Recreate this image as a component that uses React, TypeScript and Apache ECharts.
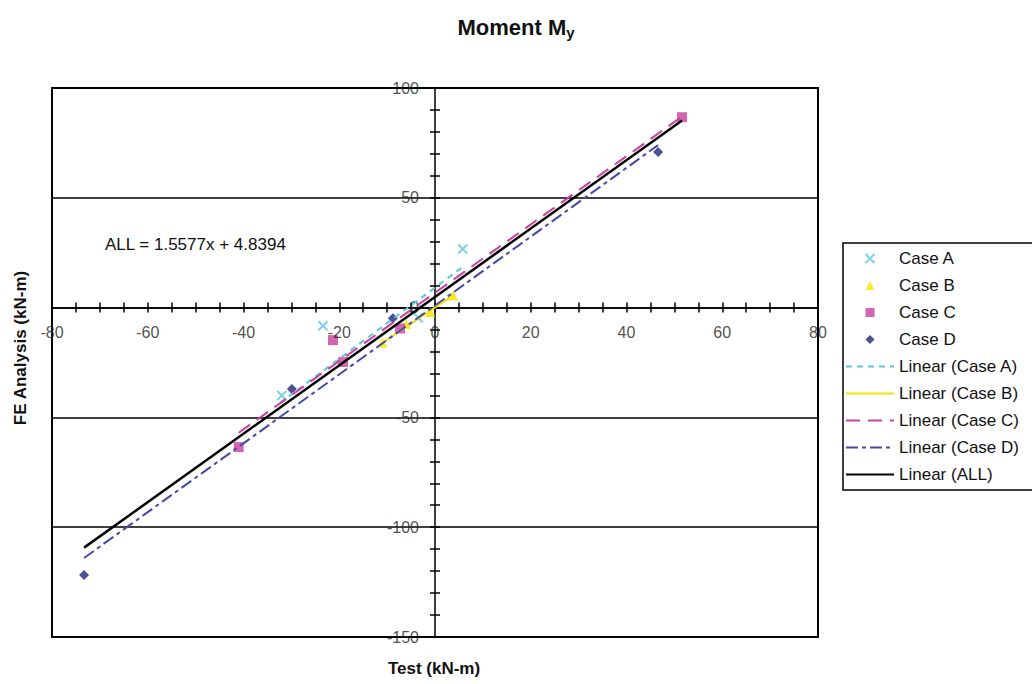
import React, { useEffect, useRef } from "react";
import * as echarts from "echarts";

const FONT = "'Liberation Sans', Arial, sans-serif";

// Scatter data (Test, FE Analysis) in kN-m
const caseAX = [-32, -23.4, -3.5, 5.8];
const caseAY = [-40, -8.3, -4.6, 26.7];
const caseBX = [-11, -6, -1, 3.8];
const caseBY = [-16, -7.5, -2, 5.5];
const caseCX = [-41, -21.3, -19.2, -7.3, 51.6];
const caseCY = [-63.5, -14.8, -24.8, -9.5, 86.7];
const caseDX = [-73.3, -29.9, -8.8, 46.6];
const caseDY = [-121.8, -37.1, -4.8, 70.8];

// Trend line end points
const linAX = [-32.4, 5.8];
const linAY = [-43.4, 18.5];
const linBX = [-11, 3.8];
const linBY = [-16, 5.6];
const linCX = [-41, 51.6];
const linCY = [-57, 87];
const linDX = [-73.3, 46.6];
const linDY = [-114, 74];
const linAllX = [-73.3, 51.6];
const linAllY = [-109.3, 85.2];

// Tick labels (drawn at the axes crossing through zero)
const xTickLabels = [-80, -60, -40, -20, 0, 20, 40, 60, 80];
const yTickLabels = [100, 50, 0, -50, -100, -150];
const xTicks = { min: -80, max: 80, interval: 20 };
const yTicks = { min: -150, max: 100, interval: 50 };
const equationText = "ALL = 1.5577x + 4.8394";

const pts = (xs: number[], ys: number[]) => xs.map((x, i) => [x, ys[i]]);

const COLORS = {
  a: "#5cc6dc",
  b: "#f2e400",
  c: "#c8409f",
  d: "#23237a",
  lineD: "#4848aa",
};

const ICON_X = "path://M0,0L10,10M10,0L0,10";
const ICON_TRI = "path://M5,0L10,10L0,10Z";
const ICON_SQ = "path://M0,0L10,0L10,10L0,10Z";
const ICON_DIA = "path://M5,0L10,5L5,10L0,5Z";

export default function App() {
  const ref = useRef<HTMLDivElement>(null);
  useEffect(() => {
    if (!ref.current) return;
    const chart = echarts.init(ref.current, undefined, { renderer: "svg" });
    const tickStyle = { color: "#000", width: 1.5 };
    const mainX = {
      type: "value",
      ...xTicks,
      axisLine: { onZero: true, onZeroAxisIndex: 0, lineStyle: { color: "#000", width: 1.5 } },
      axisTick: { show: true, length: 5, lineStyle: tickStyle },
      minorTick: { show: true, splitNumber: 4, length: 5, lineStyle: tickStyle },
      axisLabel: { show: false },
      splitLine: { show: false },
    };
    const mainY = {
      type: "value",
      ...yTicks,
      axisLine: { onZero: true, onZeroAxisIndex: 0, lineStyle: { color: "#000", width: 1.5 } },
      axisTick: { show: true, length: 5, lineStyle: tickStyle },
      minorTick: { show: true, splitNumber: 5, length: 5, lineStyle: tickStyle },
      axisLabel: { show: false },
      splitLine: { show: true, lineStyle: { color: "#000", width: 1.5 } },
    };
    const hiddenSym = { color: "rgba(0,0,0,0)", borderWidth: 0, opacity: 0 };
    const tickLabelStyle = { fontSize: 16, color: "#222", fontFamily: FONT };
    const option: any = {
      animation: false,
      backgroundColor: "#fff",
      title: {
        text: "Moment M{sub|y}",
        left: "center",
        top: 10,
        textStyle: {
          fontFamily: FONT,
          fontSize: 22,
          fontWeight: "bold",
          color: "#111",
          rich: {
            sub: { fontFamily: FONT, fontSize: 15, fontWeight: "bold", color: "#111", padding: [10, 0, 0, 0] },
          },
        },
      },
      grid: {
        left: 52,
        right: 214,
        top: 88,
        bottom: 47,
        show: true,
        borderColor: "#000",
        borderWidth: 2,
        backgroundColor: "#fff",
      },
      xAxis: [
        mainX,
        {
          ...mainX,
          axisLine: { onZero: true, onZeroAxisIndex: 0, show: false },
        },
      ],
      yAxis: [
        mainY,
        {
          ...mainY,
          axisLine: { onZero: true, onZeroAxisIndex: 0, show: false },
          splitLine: { show: false },
        },
      ],
      legend: {
        orient: "vertical",
        left: 843,
        top: 243,
        itemWidth: 48,
        itemHeight: 9,
        itemGap: 10,
        symbolKeepAspect: true,
        padding: [7, 50, 7, 2],
        borderColor: "#000",
        borderWidth: 1.5,
        backgroundColor: "#fff",
        textStyle: { fontFamily: FONT, fontSize: 17, color: "#111" },
        data: [
          { name: "Case A", icon: ICON_X },
          { name: "Case B", icon: ICON_TRI },
          { name: "Case C", icon: ICON_SQ },
          { name: "Case D", icon: ICON_DIA },
          { name: "Linear (Case A)", itemStyle: hiddenSym },
          { name: "Linear (Case B)", itemStyle: hiddenSym },
          { name: "Linear (Case C)", itemStyle: hiddenSym },
          { name: "Linear (Case D)", itemStyle: hiddenSym },
          { name: "Linear (ALL)", itemStyle: hiddenSym },
        ],
      },
      graphic: [
        {
          type: "text",
          left: 105,
          top: 236,
          style: { text: equationText, font: `17px ${FONT}`, fill: "#111" },
        },
        {
          type: "text",
          x: 434,
          y: 668,
          style: {
            text: "Test (kN-m)",
            font: `bold 17px ${FONT}`,
            fill: "#111",
            align: "center",
            verticalAlign: "middle",
          },
        },
        {
          type: "text",
          x: 20,
          y: 348,
          rotation: Math.PI / 2,
          style: {
            text: "FE Analysis (kN-m)",
            font: `bold 17px ${FONT}`,
            fill: "#111",
            align: "center",
            verticalAlign: "middle",
          },
        },
      ],
      series: [
        {
          name: "Case A",
          type: "scatter",
          data: pts(caseAX, caseAY),
          symbol: ICON_X,
          symbolSize: 9,
          itemStyle: { color: "rgba(0,0,0,0)", borderColor: COLORS.a, borderWidth: 2 },
        },
        {
          name: "Case B",
          type: "scatter",
          data: pts(caseBX, caseBY),
          symbol: "triangle",
          symbolSize: 10,
          itemStyle: { color: COLORS.b },
        },
        {
          name: "Case C",
          type: "scatter",
          data: pts(caseCX, caseCY),
          symbol: "rect",
          symbolSize: 10,
          itemStyle: { color: COLORS.c },
        },
        {
          name: "Case D",
          type: "scatter",
          data: pts(caseDX, caseDY),
          symbol: "diamond",
          symbolSize: 10,
          itemStyle: { color: COLORS.d },
        },
        {
          name: "Linear (Case A)",
          type: "line",
          data: pts(linAX, linAY),
          symbol: "none",
          showSymbol: false,
          itemStyle: { color: COLORS.a },
          lineStyle: { color: COLORS.a, width: 2, type: [6, 5] },
        },
        {
          name: "Linear (Case B)",
          type: "line",
          data: pts(linBX, linBY),
          symbol: "none",
          showSymbol: false,
          itemStyle: { color: COLORS.b },
          lineStyle: { color: COLORS.b, width: 2, type: "solid" },
        },
        {
          name: "Linear (Case C)",
          type: "line",
          data: pts(linCX, linCY),
          symbol: "none",
          showSymbol: false,
          itemStyle: { color: COLORS.c },
          lineStyle: { color: COLORS.c, width: 2, type: [14, 8] },
        },
        {
          name: "Linear (Case D)",
          type: "line",
          data: pts(linDX, linDY),
          symbol: "none",
          showSymbol: false,
          itemStyle: { color: COLORS.lineD },
          lineStyle: { color: COLORS.lineD, width: 2, type: [12, 4, 4, 4] },
        },
        {
          name: "Linear (ALL)",
          type: "line",
          data: pts(linAllX, linAllY),
          symbol: "none",
          showSymbol: false,
          itemStyle: { color: "#000" },
          lineStyle: { color: "#000", width: 2.5, type: "solid" },
        },
        {
          name: "x tick labels",
          type: "scatter",
          silent: true,
          clip: false,
          symbolSize: 0,
          data: xTickLabels.map((v) => [v, 0]),
          itemStyle: { color: "rgba(0,0,0,0)" },
          label: {
            show: true,
            position: "bottom",
            distance: 17,
            formatter: (p: any) => String(p.value[0]),
            ...tickLabelStyle,
          },
        },
        {
          name: "y tick labels",
          type: "scatter",
          silent: true,
          clip: false,
          symbolSize: 0,
          data: yTickLabels.map((v) => [0, v]),
          itemStyle: { color: "rgba(0,0,0,0)" },
          label: {
            show: true,
            position: "left",
            distance: 16,
            formatter: (p: any) => String(p.value[1]),
            ...tickLabelStyle,
          },
        },
      ],
    };
    chart.setOption(option);
    return () => chart.dispose();
  }, []);
  return (
    <div
      ref={ref}
      style={{ position: "fixed", left: 0, top: 0, width: 1032, height: 684, background: "#fff" }}
    />
  );
}
